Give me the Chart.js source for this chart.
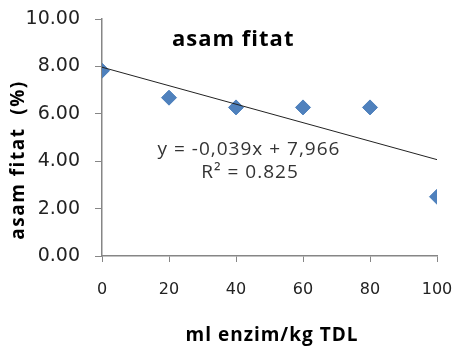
<!DOCTYPE html>
<html>
<head>
<meta charset="utf-8">
<script src="https://cdn.jsdelivr.net/npm/chart.js@4"></script>
<style>
  html, body { margin: 0; padding: 0; background: #fff; }
  #wrap { width: 457px; height: 347px; }
</style>
</head>
<body>
<div id="wrap"><canvas id="fitat-chart"></canvas></div>
<script>
const dosis = [0, 20, 40, 60, 80, 100];
const asamFitat = [7.82, 6.68, 6.27, 6.27, 6.27, 2.5];
const trendX = [0, 100];
const trendY = [7.966, 4.066];
const yTicks = [0, 2, 4, 6, 8, 10];

const axisGray = "#868686";

const pointsData = dosis.map((x, i) => ({ x: x, y: asamFitat[i] }));
const trendData = trendX.map((x, i) => ({ x: x, y: trendY[i] }));

// title, equation and axis titles drawn by hand so spacing matches
const labelPlugin = {
  id: "labels",
  afterDraw(chart) {
    const ctx = chart.ctx;
    ctx.save();
    ctx.fillStyle = "#000";
    ctx.textBaseline = "middle";
    ctx.textAlign = "left";
    ctx.letterSpacing = "1px";
    ctx.font = "bold 22px 'Open Sans'";
    ctx.fillText("asam fitat", 172, 40);

    ctx.textAlign = "center";
    ctx.font = "19px 'Open Sans'";
    ctx.fillStyle = "#333";
    ctx.fillText("y = -0,039x + 7,966", 249, 150);
    ctx.fillText("R² = 0.825", 250, 173);

    ctx.fillStyle = "#000";
    ctx.font = "bold 19px 'Open Sans'";
    ctx.fillText("ml enzim/kg TDL", 272, 336);

    ctx.translate(19, 160);
    ctx.rotate(-Math.PI / 2);
    ctx.letterSpacing = "1.5px";
    ctx.fillText("asam fitat  (%)", 0, 0);
    ctx.restore();
  }
};

const config = {
  type: "scatter",
  data: {
    datasets: [
      {
        label: "asam fitat",
        data: pointsData,
        pointStyle: "rectRot",
        pointRadius: 7.5,
        backgroundColor: "#4F81BD",
        borderColor: "#4A7EBB",
        borderWidth: 1,
        order: 2
      },
      {
        label: "trend",
        type: "line",
        data: trendData,
        showLine: true,
        borderColor: "#222",
        borderWidth: 1,
        pointRadius: 0,
        fill: false,
        order: 1
      }
    ]
  },
  options: {
    responsive: true,
    maintainAspectRatio: false,
    animation: false,
    layout: { padding: { top: 19, right: 20, left: 0, bottom: 0 } },
    plugins: {
      legend: { display: false },
      tooltip: { enabled: false }
    },
    scales: {
      x: {
        type: "linear",
        min: 0,
        max: 100,
        ticks: {
          stepSize: 20,
          color: "#222",
          font: { family: "DejaVu Sans", size: 16 },
          padding: 18
        },
        grid: { drawOnChartArea: false, drawTicks: true, tickLength: 6, color: axisGray },
        border: { color: axisGray, width: 1.5 },
        afterFit(scale) {
          scale.height = 91;
          scale.paddingLeft = 0;
          scale.paddingRight = 0;
        }
      },
      y: {
        min: 0,
        max: 10,
        afterBuildTicks(scale) { scale.ticks = yTicks.map(v => ({ value: v })); },
        ticks: {
          color: "#222",
          font: { family: "DejaVu Sans", size: 19 },
          padding: 15,
          callback: v => v.toFixed(2)
        },
        grid: { drawOnChartArea: false, drawTicks: true, tickLength: 7, color: axisGray },
        border: { color: axisGray, width: 1.5 },
        afterFit(scale) {
          scale.width = 102;
          scale.paddingTop = 0;
          scale.paddingBottom = 0;
        }
      }
    }
  },
  plugins: [labelPlugin]
};

const myChart = new Chart(document.getElementById("fitat-chart"), config);
</script>
</body>
</html>
